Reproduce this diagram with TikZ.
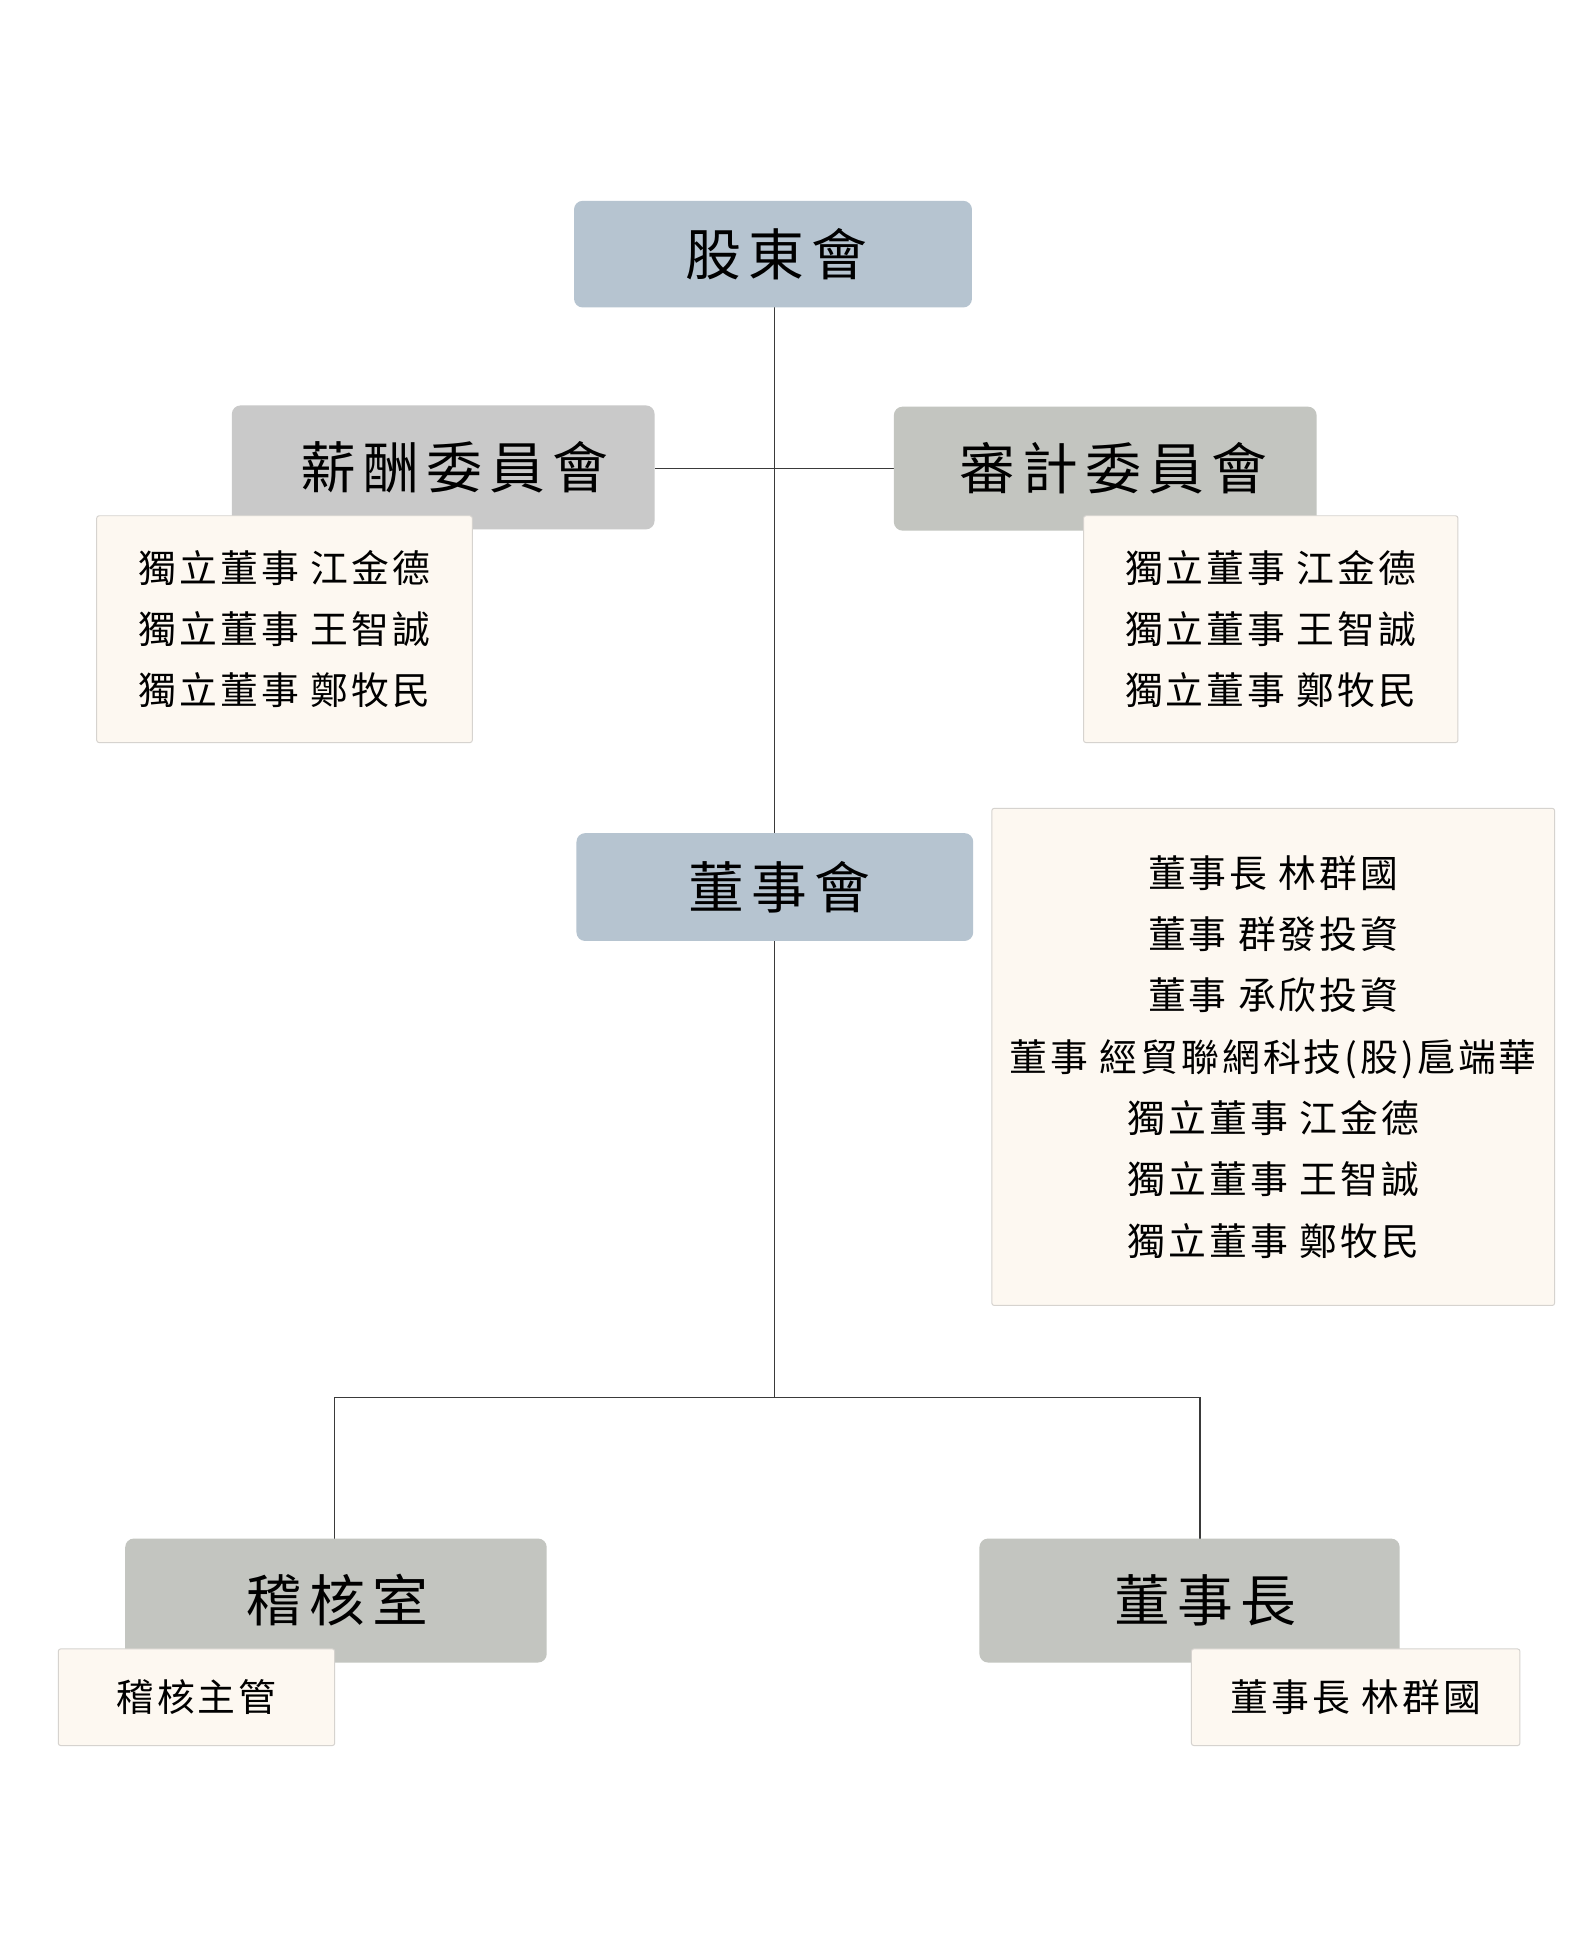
\documentclass[tikz,border=0pt]{standalone}
\usepackage{fontspec}
\newfontfamily\hdfont[LetterSpace=13]{Noto Sans CJK TC}
\newfontfamily\mbfont[LetterSpace=8]{Noto Sans CJK TC}
\definecolor{hdblue}{HTML}{B6C4D0}
\definecolor{hdgrey}{HTML}{C9C9C9}
\definecolor{hdsage}{HTML}{C3C5C0}
\definecolor{cream}{HTML}{FDF8F1}
\definecolor{creamline}{HTML}{D6D3CF}
\definecolor{linec}{HTML}{3A3A3A}
\tikzset{
  hdbox/.style={rounded corners=7pt, inner sep=0pt, text=black,
    font=\hdfont\fontsize{45}{50}\selectfont},
  bluebox/.style={hdbox, fill=hdblue},
  greybox/.style={hdbox, fill=hdgrey},
  sagebox/.style={hdbox, fill=hdsage},
  mbbox/.style={fill=cream, draw=creamline, line width=0.8pt, rounded corners=2pt,
    inner sep=0pt, align=center, text=black,
    font=\mbfont\fontsize{30.5}{49.5}\selectfont},
  conn/.style={draw=linec, line width=1pt}
}
\begin{document}
\begin{tikzpicture}[x=1pt,y=-1pt]
\useasboundingbox (0,0) rectangle (1280,1561.6);
\fill[white] (0,0) rectangle (1280,1561.6);

% coordinates for connector joints
\coordinate (top) at (625,248);
\coordinate (jn) at (625,1127);
\coordinate (jl) at (270,1127);
\coordinate (jr) at (968,1127);

% connectors (behind boxes)
\draw[conn] (top) -- (625,672);
\draw[conn] (528,378) -- (721,378);
\draw[conn] (625,759) -- (jn);
\draw[conn] (jl) -- (jr);
\draw[conn] (jl) -- (270,1241);
\draw[conn] (jr) -- (968,1241);

% header boxes
\node[bluebox, minimum width=321pt, minimum height=86pt] (sh) at (623.5,205) {\hspace*{5pt}股東會};
\node[greybox, minimum width=341pt, minimum height=100pt] (xc) at (357.5,377) {\hspace*{18pt}薪酬委員會};
\node[sagebox, minimum width=341pt, minimum height=100pt] (sj) at (891.5,378) {\hspace*{13pt}審計委員會};
\node[bluebox, minimum width=320pt, minimum height=87pt] (bd) at (625,715.5) {\hspace*{8pt}董事會};
\node[sagebox, minimum width=340pt, minimum height=100pt] (jh) at (271,1291) {\hspace*{2pt}稽核室};
\node[sagebox, minimum width=339pt, minimum height=100pt] (ch) at (959.5,1291) {\hspace*{25pt}董事長};

% member boxes
\node[mbbox, minimum width=303pt, minimum height=183pt] (xcm) at (229.5,507.5)
  {獨立董事 江金德\\獨立董事 王智誠\\獨立董事 鄭牧民};
\node[mbbox, minimum width=302pt, minimum height=183pt] (sjm) at (1025,507.5)
  {獨立董事 江金德\\獨立董事 王智誠\\獨立董事 鄭牧民};
\node[mbbox, minimum width=454pt, minimum height=401pt] (bdm) at (1027,852.5)
  {董事長 林群國\\董事 群發投資\\董事 承欣投資\\董事 經貿聯網科技(股)扈端華\\獨立董事 江金德\\獨立董事 王智誠\\獨立董事 鄭牧民};
\node[mbbox, minimum width=223pt, minimum height=78pt] (jhm) at (158.5,1369) {稽核主管};
\node[mbbox, minimum width=265pt, minimum height=78pt] (chm) at (1093.5,1369) {董事長 林群國};
\end{tikzpicture}
\end{document}
